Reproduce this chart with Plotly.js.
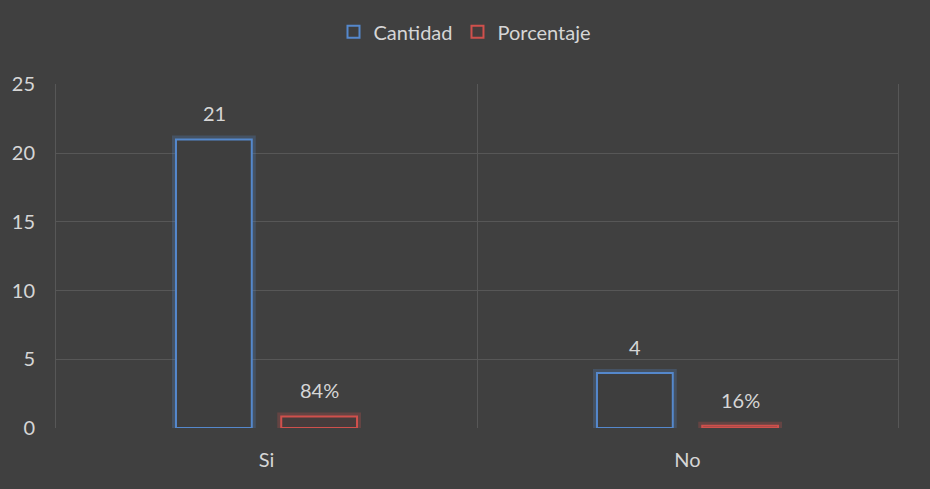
<!DOCTYPE html>
<html>
<head>
<meta charset="utf-8">
<script src="https://cdn.plot.ly/plotly-3.0.1.min.js"></script>
<style>html,body{margin:0;padding:0;background:#404040;}#chart{width:930px;height:489px;}</style>
</head>
<body>
<div id="chart"></div>
<script>
const categories = ["Si", "No"];
const cantidad = [21, 4];
const porcentaje = [0.84, 0.16];
const cantidadLabels = ["21", "4"];
const porcentajeLabels = ["84%", "16%"];
const yTicks = [0, 5, 10, 15, 20, 25];

const blue = "#5588cc";
const red = "#d0504c";
const fill = "#3e3e3e";
const txt = "#d6d6d6";

const traces = [
  {type: "bar", x: categories, y: cantidad, offsetgroup: "c", showlegend: false, hoverinfo: "skip",
   marker: {color: "rgba(0,0,0,0)", line: {color: "rgba(85,136,204,0.25)", width: 8}}},
  {type: "bar", x: categories, y: porcentaje, offsetgroup: "p", showlegend: false, hoverinfo: "skip",
   marker: {color: "rgba(0,0,0,0)", line: {color: "rgba(208,80,76,0.25)", width: 8}}},
  {type: "bar", name: "Cantidad", x: categories, y: cantidad, offsetgroup: "c",
   marker: {color: fill, line: {color: blue, width: 2}}},
  {type: "bar", name: "Porcentaje", x: categories, y: porcentaje, offsetgroup: "p",
   marker: {color: "#463c3c", line: {color: red, width: 2}}}
];

const annotations = [];
categories.forEach((c, i) => {
  annotations.push({x: c, y: cantidad[i], xref: "x", yref: "y", text: cantidadLabels[i], showarrow: false,
    xshift: -52.5, yshift: 26, font: {color: txt, size: 20}});
  annotations.push({x: c, y: porcentaje[i], xref: "x", yref: "y", text: porcentajeLabels[i], showarrow: false,
    xshift: 52.5, yshift: 26, font: {color: txt, size: 20}});
});

const layout = {
  width: 930, height: 489,
  paper_bgcolor: "#404040", plot_bgcolor: "#404040",
  font: {family: "Lato, 'Open Sans', sans-serif", color: txt, size: 20},
  margin: {l: 56, r: 32, t: 84, b: 61},
  barmode: "group", bargap: 0.5, bargroupgap: 0.28,
  showlegend: true,
  legend: {orientation: "h", x: 0.5, xanchor: "center", xref: "container", y: 0.975, yref: "container", yanchor: "top",
    font: {size: 20, color: txt}, itemwidth: 30, bgcolor: "rgba(0,0,0,0)"},
  xaxis: {type: "category", tickson: "boundaries", showgrid: true, gridcolor: "#575757", gridwidth: 1,
    ticks: "", ticklabelstandoff: 18, showline: false, zeroline: false,
    tickfont: {size: 20, color: txt}},
  yaxis: {range: [0, 25.03], tickvals: yTicks, showgrid: true, gridcolor: "#575757", gridwidth: 1,
    zeroline: false, showline: true, mirror: true, linecolor: "#575757", linewidth: 1,
    ticks: "", ticklabelstandoff: 16,
    tickfont: {size: 20, color: txt}},
  annotations: annotations
};

Plotly.newPlot("chart", traces, layout, {displayModeBar: false, staticPlot: true});
</script>
</body>
</html>
